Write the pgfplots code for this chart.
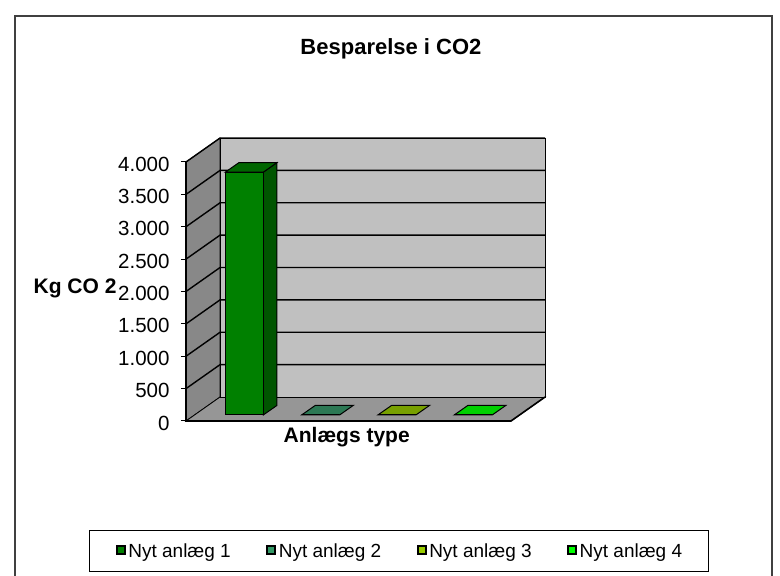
\documentclass[border=0pt]{standalone}
\usepackage{fontspec}
\setmainfont{Liberation Sans}
\usepackage{pgfplots}
\pgfplotsset{compat=1.18}
\definecolor{backgray}{RGB}{192,192,192}
\definecolor{sidegray}{RGB}{136,136,136}
\definecolor{floorgray}{RGB}{150,150,150}
\definecolor{cA}{RGB}{0,128,0}
\definecolor{cAside}{RGB}{0,85,0}
\definecolor{cAtop}{RGB}{0,102,0}
\definecolor{cB}{RGB}{51,153,102}
\definecolor{cBtop}{RGB}{44,120,84}
\definecolor{cC}{RGB}{153,204,0}
\definecolor{cCtop}{RGB}{120,160,0}
\definecolor{cD}{RGB}{0,255,0}
\definecolor{cDtop}{RGB}{0,208,0}
\pgfplotsset{
  mybar/.style={ybar, bar width=38, bar shift=0pt, draw=black, line width=1pt,
    legend image code/.code={\draw[##1, draw=black, line width=2pt] (1pt,3pt) rectangle (9pt,11pt); \path[draw=none,fill=none] (0pt,0pt) -- (12.5pt,0pt);}},
  face/.style={draw=black, line width=1pt, forget plot},
}
\begin{document}
\begin{tikzpicture}
\useasboundingbox (0pt,0pt) rectangle (780pt,576pt);
\fill[white] (0pt,0pt) rectangle (780pt,576pt);
\draw[black!75, line width=1.2pt] (15pt,560pt) rectangle (772pt,-10pt);

\begin{axis}[
  at={(186pt,155pt)}, anchor=south west,
  width=360pt, height=284.9pt, scale only axis,
  xmin=0, xmax=360, ymin=0, ymax=4400, enlargelimits=false, clip=false,
  axis x line*=bottom, axis y line*=left,
  x axis line style={draw=none}, y axis line style={draw=none},
  xtick=\empty,
  ytick={0,500,...,4000},
  tick align=outside, major tick length=5pt,
  ytick style={black, line width=1pt},
  /pgf/number format/assume math mode=true,
  yticklabel style={font=\fontsize{20.5}{24}\selectfont, /pgf/number format/1000 sep={.}, xshift=-8pt, yshift=-2pt},
  title={Besparelse i CO2},
  title style={font=\bfseries\fontsize{22}{26}\selectfont, at={(axis description cs:0.5694,1.2671)}, anchor=base},
  xlabel={Anlægs type},
  xlabel style={font=\bfseries\fontsize{21}{25}\selectfont, at={(axis description cs:0.4464,-0.0762)}, anchor=base},
  ylabel={Kg CO 2},
  ylabel style={font=\bfseries\fontsize{21}{25}\selectfont, rotate=-90, at={(axis description cs:-0.1833,0.4475)}, anchor=base east},
]
% walls
\addplot[fill=sidegray, draw=black, line width=0.8pt] coordinates {(0,0)(34,370)(34,4370)(0,4000)} -- cycle;
\addplot[fill=floorgray, draw=black, line width=0.8pt] coordinates {(0,0)(34,370)(359,370)(325,0)} -- cycle;
\addplot[fill=backgray, draw=black, line width=0.8pt] coordinates {(34,370)(359,370)(359,4370)(34,4370)} -- cycle;
% gridlines
\addplot[black, line width=1.4pt] coordinates {(0,500)(34,870)(359,870)};
\addplot[black, line width=1.4pt] coordinates {(0,1000)(34,1370)(359,1370)};
\addplot[black, line width=1.4pt] coordinates {(0,1500)(34,1870)(359,1870)};
\addplot[black, line width=1.4pt] coordinates {(0,2000)(34,2370)(359,2370)};
\addplot[black, line width=1.4pt] coordinates {(0,2500)(34,2870)(359,2870)};
\addplot[black, line width=1.4pt] coordinates {(0,3000)(34,3370)(359,3370)};
\addplot[black, line width=1.4pt] coordinates {(0,3500)(34,3870)(359,3870)};
\addplot[black, line width=1.4pt] coordinates {(0,4000)(34,4370)(359,4370)};
% front edges
\addplot[black, line width=1.6pt] coordinates {(0,4000)(0,0)(325,0)(359,370)};
\end{axis}

\begin{axis}[
  at={(186pt,155pt)}, anchor=south west,
  width=360pt, height=284.9pt, scale only axis,
  xmin=0, xmax=360, ymin=-93, ymax=4307, enlargelimits=false, clip=false,
  hide axis,
  legend columns=4,
  legend cell align=left,
  legend style={at={(axis description cs:0.5917,-0.4563)}, anchor=center,
    draw=black, line width=0.8pt, font=\fontsize{19}{22}\selectfont,
    inner xsep=26pt, inner ysep=12.5pt,
    nodes={inner sep=0pt, anchor=base west},
    /tikz/every even column/.append style={column sep=35.5pt}},
]
% 3D faces of the bars
\addplot[face, fill=cAside] coordinates {(77.3,0)(90.9,147)(90.9,3897)(77.3,3750)} -- cycle;
\addplot[face, fill=cAtop] coordinates {(39.3,3750)(77.3,3750)(90.9,3897)(52.9,3897)} -- cycle;
\addplot[face, fill=cBtop] coordinates {(115.6,0)(153.6,0)(167.2,147)(129.2,147)} -- cycle;
\addplot[face, fill=cCtop] coordinates {(191.9,0)(229.9,0)(243.5,147)(205.5,147)} -- cycle;
\addplot[face, fill=cDtop] coordinates {(268.2,0)(306.2,0)(319.8,147)(281.8,147)} -- cycle;
% front faces (values)
\addplot[mybar, fill=cA] coordinates {(58.3,3750)};
\addlegendentry{Nyt anlæg 1}
\addplot[mybar, fill=cB] coordinates {(134.6,0)};
\addlegendentry{Nyt anlæg 2}
\addplot[mybar, fill=cC] coordinates {(210.9,0)};
\addlegendentry{Nyt anlæg 3}
\addplot[mybar, fill=cD] coordinates {(287.2,0)};
\addlegendentry{Nyt anlæg 4}
\end{axis}
\end{tikzpicture}
\end{document}
